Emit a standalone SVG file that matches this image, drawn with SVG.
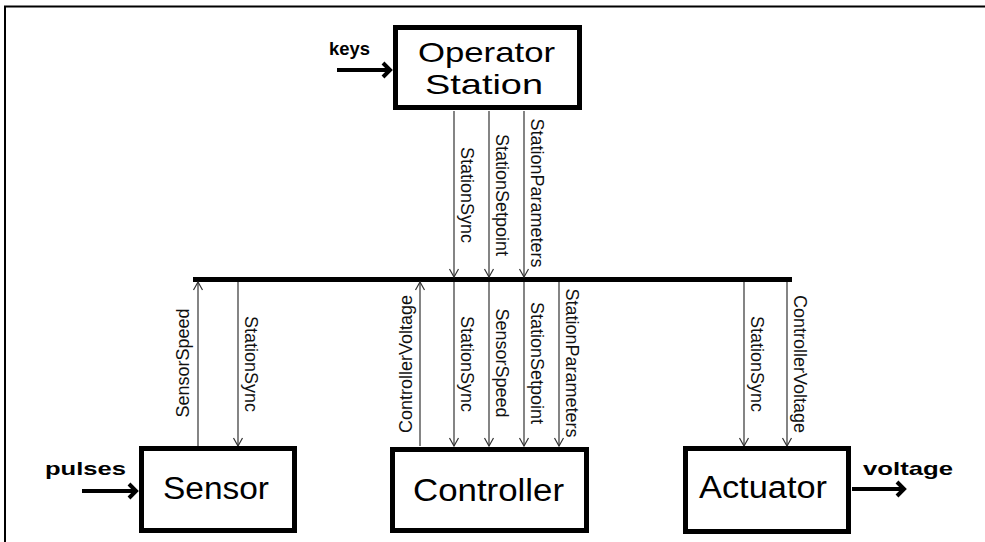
<svg xmlns="http://www.w3.org/2000/svg" width="985" height="542" viewBox="0 0 985 542">
  <style>
    .frame { stroke: #000; stroke-width: 2; fill: none; }
    .box { fill: #fff; stroke: #000; stroke-width: 5; }
    .title { font-family: "Liberation Sans", Arial, sans-serif; font-size: 31px; fill: #000; text-anchor: middle; }
    .title2 { font-size: 28px; }
    .io { font-family: "Liberation Sans", Arial, sans-serif; font-size: 19px; font-weight: bold; fill: #000; }
    .sig { stroke: #333; stroke-width: 1.2; fill: none; }
    .lbl { font-family: "Liberation Sans", Arial, sans-serif; font-size: 18px; fill: #111; text-anchor: middle; }
    .bus { stroke: #000; stroke-width: 5; }
    .ext { stroke: #000; stroke-width: 4; fill: none; }
  </style>
  <defs>
    <marker id="tip" markerUnits="userSpaceOnUse" markerWidth="12" markerHeight="12" refX="10" refY="6" orient="auto">
      <path d="M2,1.5 L10,6 L2,10.5" fill="none" stroke="#333" stroke-width="1.2"/>
    </marker>
    <marker id="bigtip" markerUnits="userSpaceOnUse" markerWidth="20" markerHeight="20" refX="14" refY="10" orient="auto">
      <path d="M6,3 L13,10 L6,17" fill="none" stroke="#000" stroke-width="4" stroke-linejoin="miter"/>
    </marker>
  </defs>

  <!-- page frame (top and left edges) -->
  <path class="frame" d="M5,542 L5,6.5 L985,6.5"/>

  <!-- shared bus -->
  <line id="bus" class="bus" x1="193" y1="279.5" x2="792" y2="279.5"/>

  <g id="connectors">
    <!-- external inputs/outputs -->
    <line class="ext" x1="337" y1="70" x2="391" y2="70" marker-end="url(#bigtip)"/>
    <line class="ext" x1="82" y1="491" x2="137" y2="491" marker-end="url(#bigtip)"/>
    <line class="ext" x1="852" y1="489" x2="905" y2="489" marker-end="url(#bigtip)"/>

    <!-- operator station to bus -->
    <line class="sig" x1="454" y1="111" x2="454" y2="277" marker-end="url(#tip)"/>
    <line class="sig" x1="489" y1="111" x2="489" y2="277" marker-end="url(#tip)"/>
    <line class="sig" x1="524" y1="111" x2="524" y2="277" marker-end="url(#tip)"/>

    <!-- sensor -->
    <line class="sig" x1="198" y1="446" x2="198" y2="282" marker-end="url(#tip)"/>
    <line class="sig" x1="238" y1="282" x2="238" y2="446" marker-end="url(#tip)"/>

    <!-- controller -->
    <line class="sig" x1="420" y1="446" x2="420" y2="282" marker-end="url(#tip)"/>
    <line class="sig" x1="454" y1="282" x2="454" y2="446" marker-end="url(#tip)"/>
    <line class="sig" x1="489" y1="282" x2="489" y2="446" marker-end="url(#tip)"/>
    <line class="sig" x1="524" y1="282" x2="524" y2="446" marker-end="url(#tip)"/>
    <line class="sig" x1="559" y1="282" x2="559" y2="446" marker-end="url(#tip)"/>

    <!-- actuator -->
    <line class="sig" x1="744" y1="282" x2="744" y2="446" marker-end="url(#tip)"/>
    <line class="sig" x1="787" y1="282" x2="787" y2="446" marker-end="url(#tip)"/>

    <!-- signal labels -->
    <text class="lbl" transform="translate(461,195) rotate(90)">StationSync</text>
    <text class="lbl" transform="translate(496,195) rotate(90)">StationSetpoint</text>
    <text class="lbl" transform="translate(531,193) rotate(90)">StationParameters</text>

    <text class="lbl" transform="translate(189,363) rotate(-90)">SensorSpeed</text>
    <text class="lbl" transform="translate(245,364) rotate(90)">StationSync</text>

    <text class="lbl" transform="translate(412,364) rotate(-90)">ControllerVoltage</text>
    <text class="lbl" transform="translate(461,364) rotate(90)">StationSync</text>
    <text class="lbl" transform="translate(496,363) rotate(90)">SensorSpeed</text>
    <text class="lbl" transform="translate(531,363) rotate(90)">StationSetpoint</text>
    <text class="lbl" transform="translate(566,363) rotate(90)">StationParameters</text>

    <text class="lbl" transform="translate(751,364) rotate(90)">StationSync</text>
    <text class="lbl" transform="translate(794,364) rotate(90)">ControllerVoltage</text>

    <!-- external labels -->
    <text class="io" x="329" y="55" textLength="41" lengthAdjust="spacingAndGlyphs">keys</text>
    <text class="io" x="45" y="475" textLength="81" lengthAdjust="spacingAndGlyphs">pulses</text>
    <text class="io" x="863" y="475" textLength="90" lengthAdjust="spacingAndGlyphs">voltage</text>
  </g>

  <g id="operator-station">
    <rect class="box" x="395.5" y="27.5" width="184" height="80"/>
    <text class="title title2" x="486.5" y="62" textLength="137" lengthAdjust="spacingAndGlyphs">Operator</text>
    <text class="title title2" x="484" y="94" textLength="118" lengthAdjust="spacingAndGlyphs">Station</text>
  </g>

  <g id="sensor">
    <rect class="box" x="141.5" y="448.5" width="153" height="82"/>
    <text class="title" x="216" y="499" textLength="106" lengthAdjust="spacingAndGlyphs">Sensor</text>
  </g>

  <g id="controller">
    <rect class="box" x="392.5" y="449.5" width="194" height="81"/>
    <text class="title" x="488.5" y="501" textLength="151" lengthAdjust="spacingAndGlyphs">Controller</text>
  </g>

  <g id="actuator">
    <rect class="box" x="685.5" y="448.5" width="163" height="83"/>
    <text class="title" x="763" y="498" textLength="128" lengthAdjust="spacingAndGlyphs">Actuator</text>
  </g>
</svg>
